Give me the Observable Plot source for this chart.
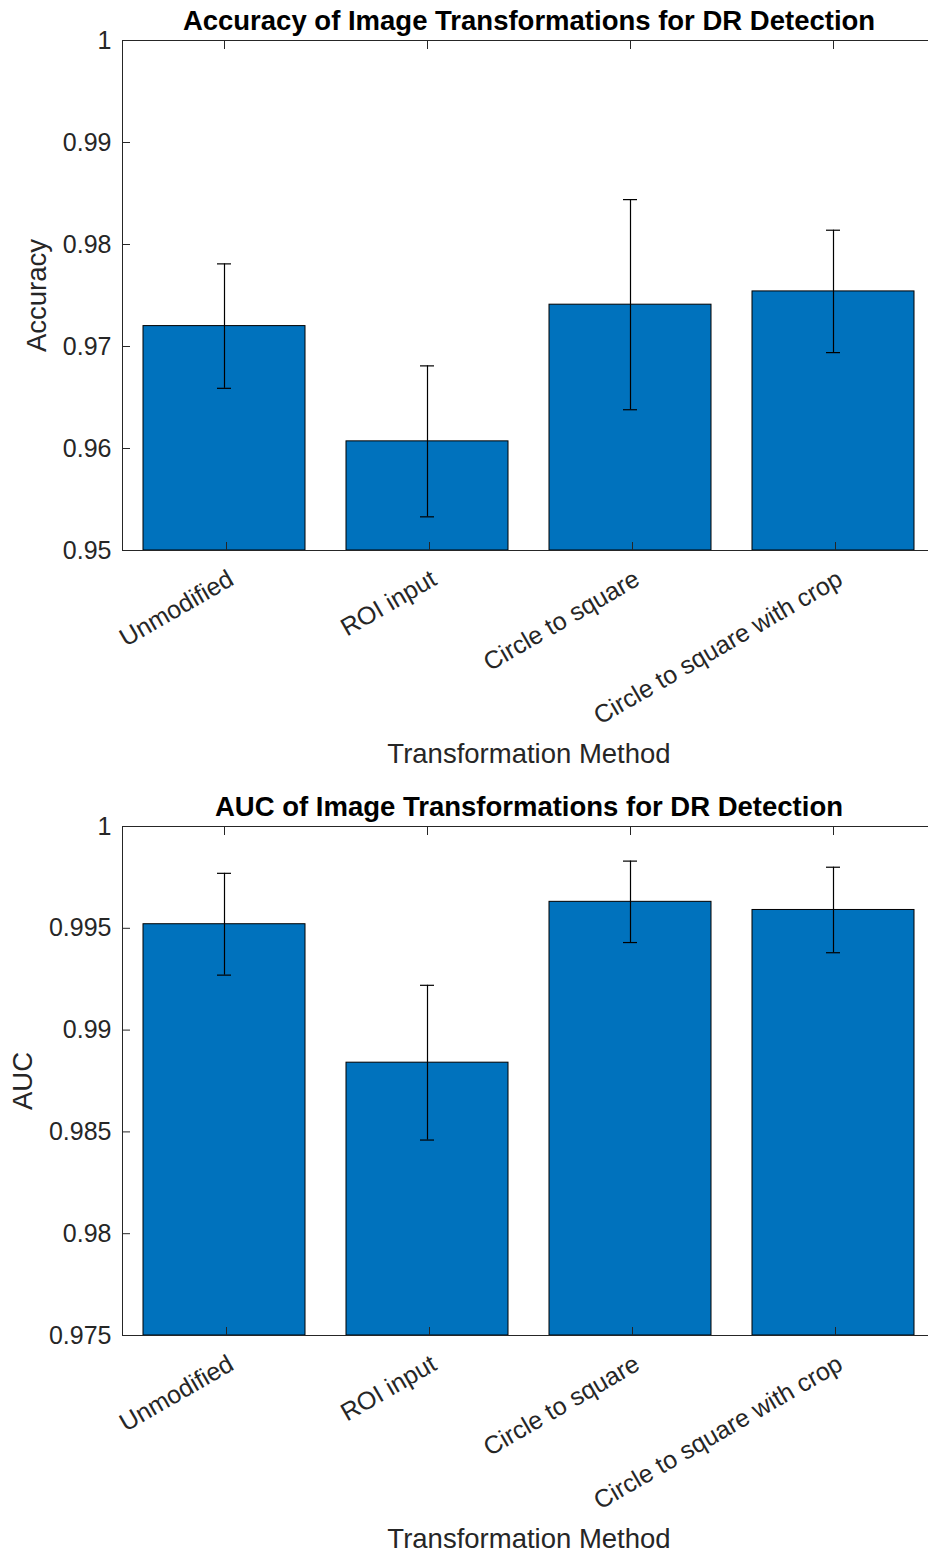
<!DOCTYPE html>
<html><head><meta charset="utf-8">
<script src="https://cdn.jsdelivr.net/npm/d3@7"></script>
<script src="https://cdn.jsdelivr.net/npm/@observablehq/plot@0.6"></script>
<style>
html,body{margin:0;padding:0;background:#fff;overflow:hidden;width:928px;height:1553px}
svg{display:block}
</style>
</head><body><div id="c"></div>
<script>
const categories = ["Unmodified", "ROI input", "Circle to square", "Circle to square with crop"];
const accuracyMean = [0.9720, 0.9607, 0.9741, 0.9754];
const accuracyErr = [0.0061, 0.0074, 0.0103, 0.0060];
const aucMean = [0.9952, 0.9884, 0.9963, 0.9959];
const aucErr = [0.0025, 0.0038, 0.0020, 0.0021];
const accuracyTicks = [0.95, 0.96, 0.97, 0.98, 0.99, 1];
const aucTicks = [0.975, 0.98, 0.985, 0.99, 0.995, 1];
const titles = ["Accuracy of Image Transformations for DR Detection", "AUC of Image Transformations for DR Detection"];
const yLabels = ["Accuracy", "AUC"];
const xLabel = "Transformation Method";

const ink = "#262626";
const font = "'Liberation Sans', Arial, Helvetica, sans-serif";

function chart({title, ylabel, means, errs, ticks, height, marginBottom, ylabelOffset}) {
  const data = categories.map((c, i) => ({c, m: means[i], lo: means[i] - errs[i], hi: means[i] + errs[i]}));
  const y0 = ticks[0], y1 = ticks[ticks.length - 1];
  return Plot.plot({
    width: 940, height, marginTop: 40, marginBottom, marginLeft: 122, marginRight: 5,
    style: {fontFamily: font, fontSize: "25px", maxWidth: "none", background: "#fff", overflow: "visible"},
    x: {type: "band", domain: categories, paddingInner: 0.2, paddingOuter: 0.1},
    y: {domain: [y0, y1]},
    marks: [
      Plot.barY(data, {x: "c", y1: y0, y2: "m", fill: "#0072BD", stroke: "#000", strokeWidth: 1}),
      Plot.ruleX(data, {x: "c", y1: "lo", y2: "hi", stroke: "#000", strokeWidth: 1.2}),
      Plot.tickY(data, {x: "c", y: "lo", stroke: "#000", strokeWidth: 1.2, inset: 74}),
      Plot.tickY(data, {x: "c", y: "hi", stroke: "#000", strokeWidth: 1.2, inset: 74}),
      Plot.frame({stroke: ink, strokeWidth: 1}),
      Plot.axisY({anchor: "left", ticks, tickFormat: d3.format("~g"), tickSize: -8, tickPadding: 19, color: ink, fontSize: 25,
        label: null}),
      Plot.axisY({anchor: "left", ticks: [], tickSize: 0, color: ink, fontSize: 27.5,
        label: ylabel, labelAnchor: "center", labelOffset: ylabelOffset, labelArrow: "none"}),
      Plot.axisY({anchor: "right", ticks, tickFormat: () => "", tickSize: -8, label: null, color: ink}),
      Plot.axisX({anchor: "top", tickFormat: () => "", tickSize: -8, label: null, color: ink}),
      Plot.axisX({anchor: "bottom", tickSize: -8, tickPadding: 26, tickRotate: -30, textAnchor: "end", lineAnchor: "top", dx: 2,
        color: ink, fontSize: 25, label: null}),
      Plot.axisX({anchor: "bottom", ticks: [], tickSize: 0, color: ink, fontSize: 27.5,
        label: xLabel, labelAnchor: "center", labelOffset: 212}),
      Plot.text([title], {frameAnchor: "top", lineAnchor: "bottom", dy: -11, text: d => d, fontWeight: "bold", fontSize: 27.5, fill: "#000"})
    ]
  });
}

const c = document.getElementById("c");
c.append(chart({title: titles[0], ylabel: yLabels[0], means: accuracyMean, errs: accuracyErr, ticks: accuracyTicks, height: 786, marginBottom: 236, ylabelOffset: 96}));
c.append(chart({title: titles[1], ylabel: yLabels[1], means: aucMean, errs: aucErr, ticks: aucTicks, height: 767, marginBottom: 218, ylabelOffset: 110}));
</script>
</body></html>
